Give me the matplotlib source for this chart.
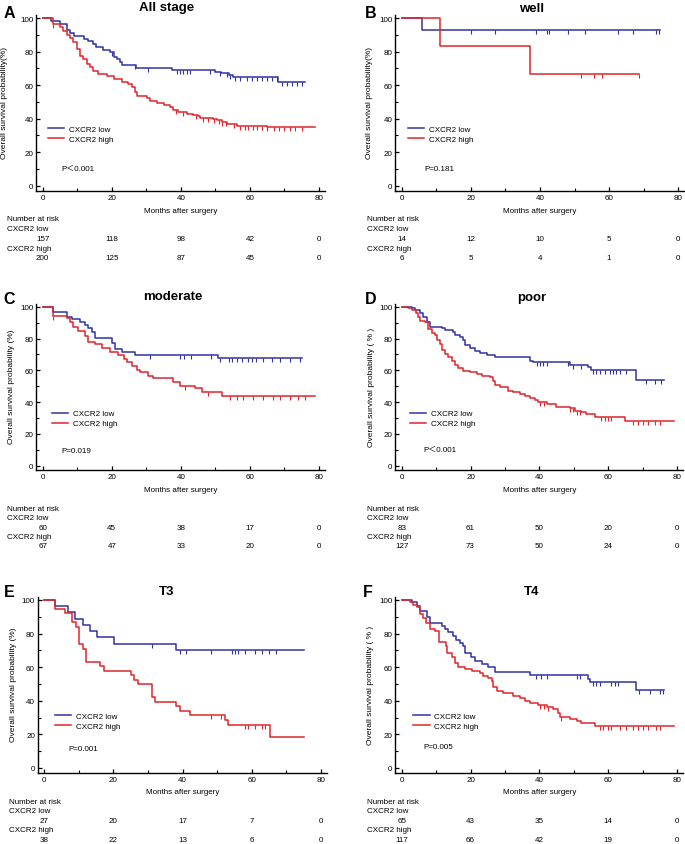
import numpy as np
import matplotlib
matplotlib.use('Agg')
import matplotlib.pyplot as plt
from matplotlib.transforms import blended_transform_factory

# ---------------- data ----------------
risk_times = [0, 20, 40, 60, 80]

# A: all stage
a_low_t = [0, 2.5, 5, 7, 8, 9, 12, 13, 14.5, 15.5, 17.5, 19.5, 20.5, 21.5, 22.5, 23, 27, 37.5, 50, 51.5, 54, 55, 68, 76]
a_low_s = [100, 98, 96.5, 93, 91, 89, 87.5, 86, 84.5, 82.5, 81, 79.5, 77, 75.5, 73.5, 72, 70.3, 69, 68, 67, 66, 65, 62, 62]
a_low_cens = [20, 26.7, 30.6, 38.8, 39.8, 40.7, 41.7, 42.7, 48.5, 51.4, 53.3, 54.2, 55.7, 57.1, 59.1, 60.5, 62, 63.4,
              64.9, 66.3, 67.8, 69.2, 70.7, 72.1, 73.6, 75]
a_high_t = [0, 3, 5, 6, 6.9, 7.9, 8.9, 10, 10.8, 11.8, 12.7, 13.7, 14.7, 16.1, 18.5, 20.5, 22.9, 24.8, 25.8, 26.7,
            27.2, 30.1, 31.1, 33, 35, 36.9, 37.8, 39.3, 41.7, 43.6, 45.1, 45.6, 49.4, 50.4, 51.8, 53.3, 56.2, 64.9, 78.9]
a_high_s = [100, 96.4, 94.4, 92.4, 89.9, 87.9, 85.9, 81.5, 77.5, 75.5, 72.6, 70.6, 68.6, 66.6, 65.2, 63.6, 62, 60.6, 59, 55.7,
            53.7, 52, 50.7, 49.3, 48, 46.7, 45.3, 44, 43, 42.3, 41.4, 40.6, 39.8, 39, 38, 37, 35.8, 35.2, 35.2]
a_high_cens = [3, 38.5, 40.5, 44.5, 46.5, 48, 49.5, 51, 52, 53, 55.5, 57, 58.5, 59.5, 61, 62, 63.5, 65, 67, 68.5, 70,
               71.5, 73, 75]
a_risk_low = [157, 118, 98, 42, 0]
a_risk_high = [200, 125, 87, 45, 0]

# B: well
b_low_t = [0, 6, 74.7]
b_low_s = [100, 92.9, 92.9]
b_low_cens = [20, 27, 38.8, 41.9, 42.7, 48, 53, 62.7, 66.8, 73.5, 74.5]
b_high_t = [0, 11, 37, 68.7]
b_high_s = [100, 83.3, 66.7, 66.7]
b_high_cens = [51.8, 55.6, 57.8, 68.7]
b_risk_low = [14, 12, 10, 5, 0]
b_risk_high = [6, 5, 4, 1, 0]

# C: moderate
c_low_t = [0, 3, 7, 8.4, 10.8, 12.3, 13.2, 14.2, 15.2, 20, 20.9, 22.9, 26.7, 50.9, 75]
c_low_s = [100, 96.6, 93.7, 92.2, 90.6, 88.5, 86.4, 83.9, 80.1, 77.1, 73.4, 71.7, 69.6, 67.5, 67.5]
c_low_cens = [31.1, 39.8, 40.9, 43, 48.7, 51.4, 53.8, 54.9, 56.2, 57.6, 59.5, 60.7, 61.8, 63.9, 66.3, 68.7, 71.6, 74.5]
c_high_t = [0, 3, 7, 7.9, 8.9, 10.3, 12.3, 13.2, 15.2, 17.1, 19.5, 21.9, 23.4, 24.3, 25.8, 27.2, 28.2, 30.6, 32,
            37.8, 39.8, 44.1, 46, 51.8, 78.9]
c_high_s = [100, 94.3, 92.7, 90.6, 87.4, 84.9, 81.8, 78, 76.3, 73.8, 71.7, 69.6, 67.1, 65, 62.5, 60.4, 58.7, 56.6, 54.9,
            52.8, 50.3, 48.6, 46.5, 43.6, 43.6]
c_high_cens = [3.1, 41.2, 48, 54.2, 56.2, 58.1, 61, 63.9, 66.8, 68.7, 71.6, 74, 76]
c_risk_low = [60, 45, 38, 17, 0]
c_risk_high = [67, 47, 33, 20, 0]

# D: poor
d_low_t = [0, 2.9, 3.9, 5.3, 6.3, 7.3, 8.2, 11.6, 12.6, 15, 15.5, 16.9, 17.9, 18.4, 19.8, 21.3, 22.7, 24.7, 27.1,
           37.2, 38.2, 48.8, 54.2, 55.1, 68.2, 76.1]
d_low_s = [100, 99, 97.9, 95.8, 93.7, 90.6, 87, 86.4, 85.3, 84.3, 82.2, 80.7, 79, 75.9, 73.8, 72.3, 70.9, 69.6, 68.1,
           66, 65, 63.3, 61.8, 60.4, 54.1, 54.1]
d_low_cens = [39.2, 40.1, 41.1, 42.1, 48.2, 49.8, 52.2, 55.6, 56.6, 57.5, 59, 60.4, 61.4, 62.4, 63.3, 65.3, 71.1,
              73.5, 75.4]
d_high_t = [0, 1.9, 2.9, 4.2, 4.8, 5.3, 6.8, 7.7, 8.7, 9.7, 10.2, 11.1, 11.6, 12.6, 13.5, 14.5, 15.5, 16.4, 17.9,
            19.8, 21.8, 23.2, 25.6, 26.6, 27.1, 28.5, 30.9, 32.4, 34.3, 35.8, 37.2, 38.7, 39.7, 42.1, 44.9, 48.8,
            50.3, 52.2, 53.7, 56.1, 64.8, 79]
d_high_s = [100, 99, 97.9, 95.8, 93.7, 91.2, 90.1, 86, 83.4, 82.2, 79, 76.5, 73, 70.2, 68.1, 66, 63.3, 61.2, 59.7,
            58.7, 57.7, 56.6, 55.6, 53.5, 50.7, 49.3, 47.2, 46.1, 45.1, 43.6, 42.3, 41.3, 40.3, 38.8, 37.1, 36.1,
            34.6, 33.5, 32.5, 30.4, 28.3, 28.3]
d_high_cens = [40.1, 41.3, 48.8, 49.8, 50.8, 51.7, 58, 59, 60, 60.9, 67.2, 68.7, 70.1, 71.6, 73.5, 75]
d_risk_low = [83, 61, 50, 20, 0]
d_risk_high = [127, 73, 50, 24, 0]

# E: T3
e_low_t = [0, 3.1, 6.9, 8.9, 11.3, 13.2, 15.2, 20.3, 38.1, 75.2]
e_low_s = [100, 96.3, 92.6, 88.9, 85.2, 81.5, 77.8, 74.1, 70, 70]
e_low_cens = [31.1, 39.3, 40.9, 48.3, 54.2, 55.2, 56.2, 58.1, 61, 62.9, 64.9, 67.1]
e_high_t = [0, 3.1, 6, 7.9, 9.2, 10, 11.3, 12.1, 16.1, 17.4, 25.1, 26, 27, 31.1, 31.9, 38.1, 39.3, 42.2, 52.3,
            53.1, 65.2, 75.2]
e_high_s = [100, 94.7, 92.1, 86.8, 84.2, 73.7, 71.1, 63.2, 60.5, 57.9, 55.3, 52.6, 50, 42.1, 39.5, 36.8, 34.2, 31.6,
            28.4, 25.3, 18.4, 18.4]
e_high_cens = [48.2, 51.2, 58.1, 59.1, 61, 62.9, 63.9]
e_risk_low = [27, 20, 17, 7, 0]
e_risk_high = [38, 22, 13, 6, 0]

# F: T4
f_low_t = [0, 2.9, 4.4, 5.3, 7.3, 8.2, 11.6, 12.6, 13.5, 15, 15.8, 16.9, 17.9, 18.4, 20.1, 21.3, 23.2, 25.1, 27.1,
           37.2, 54.2, 54.7, 68.2, 76.1]
f_low_s = [100, 99, 96.6, 93.7, 89.7, 86.1, 84.7, 82.7, 80.8, 78.8, 76.2, 74.2, 72.8, 68.3, 65.9, 63.5, 61.9, 60.3,
           56.9, 55.6, 53, 51, 46.4, 46.4]
f_low_cens = [39, 40.6, 42.1, 51, 51.9, 55.6, 56.4, 57.5, 60.9, 61.9, 62.9, 69.1, 72.1, 75, 75.9]
f_high_t = [0, 2.4, 3.4, 4.4, 5.3, 6.3, 7.1, 8.2, 9.7, 10.9, 12.9, 13.2, 14.5, 15.5, 16.4, 18.4, 20.3, 22.7, 23.7,
            25.1, 26.1, 26.6, 27.6, 29.5, 32.4, 34.3, 35.8, 37.2, 39.7, 42.1, 44, 45.5, 45.9, 48.8, 50.8, 52.2,
            56.1, 79]
f_high_s = [100, 99, 97.2, 95.6, 91.7, 89.3, 86.1, 82.7, 81.3, 74.8, 72.8, 68.3, 65.9, 62.3, 59.9, 58.9, 57.5, 56.3,
            54.9, 53.6, 52, 48.4, 45.6, 44.4, 43.1, 41.7, 40.1, 38.7, 37.7, 36.5, 35.1, 32.5, 30.6, 29.2, 27.8, 26.6,
            25.2, 25.2]
f_high_cens = [40.1, 41.3, 42.6, 46.4, 57.5, 58.5, 60, 60.9, 63.3, 65.3, 67.2, 68.7, 70.1, 71.6, 74, 75]
f_risk_low = [65, 43, 35, 14, 0]
f_risk_high = [117, 66, 42, 19, 0]

# ---------------- style ----------------
W, H = 685, 845
plt.rcParams['font.family'] = ['Liberation Sans Narrow', 'Liberation Sans', 'DejaVu Sans', 'Noto Sans CJK SC']
bold_family = ['Liberation Sans', 'DejaVu Sans']
blue = '#2f31a5'
red = '#e2252b'
fs = 5.8

fig = plt.figure(figsize=(W / 100, H / 100), dpi=100)


def fxy(x, y):
    # pixel position (from top-left) -> figure fraction
    return x / W, 1 - y / H


# layout in pixels: x of month 0, x of month 80, y of 100 %, y of 0 %
panels = [
    dict(letter='A', title='All stage', ylab='Overall survival probability(%)', p='P＜0.001',
         low=(a_low_t, a_low_s, a_low_cens), high=(a_high_t, a_high_s, a_high_cens),
         risk=(a_risk_low, a_risk_high),
         box=(42.7, 319, 19, 186.7), letter_xy=(9, 14), title_xy=(167, 8), ylab_x=8,
         leg=(1.6, 30.8), p_xy=(5.5, 10.3), xlab_y=211.5, rx=7, ry=(219.5, 229.3, 239.3, 249.3, 258.8)),
    dict(letter='B', title='well', ylab='Overall survival probability(%)', p='P=0.181',
         low=(b_low_t, b_low_s, b_low_cens), high=(b_high_t, b_high_s, b_high_cens),
         risk=(b_risk_low, b_risk_high),
         box=(401.7, 678.3, 19, 186.7), letter_xy=(371, 14), title_xy=(532, 9), ylab_x=373,
         leg=(1.9, 30.9), p_xy=(6.7, 10), xlab_y=211.5, rx=367, ry=(219.5, 229.3, 239.3, 249.3, 258.8)),
    dict(letter='C', title='moderate', ylab='Overall survival probability (%)', p='P=0.019',
         low=(c_low_t, c_low_s, c_low_cens), high=(c_high_t, c_high_s, c_high_cens),
         risk=(c_risk_low, c_risk_high),
         box=(42.7, 319, 307.7, 466.7), letter_xy=(9, 299), title_xy=(173, 297), ylab_x=15,
         leg=(2.6, 29.6), p_xy=(5.5, 9.4), xlab_y=491, rx=7, ry=(510, 518.5, 528.3, 537.7, 546.7)),
    dict(letter='D', title='poor', ylab='Overall survival probability ( % )', p='P＜0.001',
         low=(d_low_t, d_low_s, d_low_cens), high=(d_high_t, d_high_s, d_high_cens),
         risk=(d_risk_low, d_risk_high),
         box=(401.7, 677, 307.7, 466.7), letter_xy=(371, 300), title_xy=(532, 298), ylab_x=375,
         leg=(2.4, 29.6), p_xy=(6.3, 10.5), xlab_y=491, rx=367, ry=(510, 518.5, 528.3, 537.7, 546.7)),
    dict(letter='E', title='T3', ylab='Overall survival probability (%)', p='P=0.001',
         low=(e_low_t, e_low_s, e_low_cens), high=(e_high_t, e_high_s, e_high_cens),
         risk=(e_risk_low, e_risk_high),
         box=(44.3, 320.7, 601, 769), letter_xy=(9, 592.5), title_xy=(167, 592), ylab_x=17,
         leg=(3.1, 27.9), p_xy=(7, 11.7), xlab_y=793, rx=9, ry=(802.3, 811.7, 821.7, 831, 841)),
    dict(letter='F', title='T4', ylab='Overall survival probability ( % )', p='P=0.005',
         low=(f_low_t, f_low_s, f_low_cens), high=(f_high_t, f_high_s, f_high_cens),
         risk=(f_risk_low, f_risk_high),
         box=(401.7, 677, 601, 769), letter_xy=(368, 592.5), title_xy=(532, 592), ylab_x=374,
         leg=(3.4, 27.9), p_xy=(6.3, 12.7), xlab_y=793, rx=367, ry=(802.3, 811.7, 821.7, 831, 841)),
]

xmin, xmax = -1.9, 81.8
ymin, ymax = -3.0, 101.5

for pn in panels:
    x0, x80, y100, y0 = pn['box']
    ppm = (x80 - x0) / 80.0
    ppp = (y0 - y100) / 100.0
    left = x0 + xmin * ppm
    right = x0 + xmax * ppm
    top = y0 - ymax * ppp
    bottom = y0 - ymin * ppp
    ax = fig.add_axes([left / W, 1 - bottom / H, (right - left) / W, (bottom - top) / H])
    ax.set_xlim(xmin, xmax)
    ax.set_ylim(ymin, ymax)

    # survival curves
    for (t, s, cens), col, lab in [(pn['low'], blue, 'CXCR2 low'), (pn['high'], red, 'CXCR2 high')]:
        t = np.array(t, dtype=float)
        s = np.array(s, dtype=float)
        ax.step(t, s, where='post', color=col, lw=1.1, label=lab, zorder=3)
        c = np.array(cens, dtype=float)
        cy = s[np.searchsorted(t, c, side='right') - 1]
        ax.plot(c, cy, linestyle='none', marker=3, markersize=3.2, markeredgewidth=0.8,
                color=col, zorder=3)

    # axes style
    for side in ['top', 'right']:
        ax.spines[side].set_visible(False)
    for side in ['left', 'bottom']:
        ax.spines[side].set_linewidth(1.0)
    ax.set_xticks([0, 20, 40, 60, 80])
    ax.set_xticks([10, 30, 50, 70], minor=True)
    ax.set_yticks([0, 20, 40, 60, 80, 100])
    ax.set_yticks([10, 30, 50, 70, 90], minor=True)
    ax.tick_params(which='major', direction='in', length=3.2, width=0.9, labelsize=fs, pad=2)
    ax.tick_params(which='minor', direction='in', length=2.0, width=0.8)
    ax.patch.set_visible(False)

    # y label
    ax.set_ylabel(pn['ylab'], fontsize=6)
    ax.yaxis.set_label_coords(pn['ylab_x'] / W, 1 - (y100 + y0) / 2 / H, transform=fig.transFigure)

    # legend
    ax.legend(loc='center left', bbox_to_anchor=pn['leg'], bbox_transform=ax.transData,
              frameon=False, fontsize=fs, borderpad=0, borderaxespad=0, handlelength=2.0,
              handletextpad=0.6, labelspacing=0.3)

    # p value
    ax.text(pn['p_xy'][0], pn['p_xy'][1], pn['p'], fontsize=fs, ha='left', va='center')

    # title and panel letter
    fig.text(*fxy(*pn['title_xy']), pn['title'], fontsize=9.5, fontweight='bold',
             family=bold_family, ha='center', va='center')
    fig.text(*fxy(*pn['letter_xy']), pn['letter'], fontsize=11.5, fontweight='bold',
             family=bold_family, ha='center', va='center')

    # x label and number-at-risk table
    tr = blended_transform_factory(ax.transData, fig.transFigure)
    ax.text(40, 1 - pn['xlab_y'] / H, 'Months after surgery', transform=tr, fontsize=fs,
            ha='center', va='center')
    ry = pn['ry']
    fig.text(*fxy(pn['rx'], ry[0]), 'Number at risk', fontsize=fs, va='center')
    fig.text(*fxy(pn['rx'], ry[1]), 'CXCR2 low', fontsize=fs, va='center')
    fig.text(*fxy(pn['rx'], ry[3]), 'CXCR2 high', fontsize=fs, va='center')
    for xt, nl, nh in zip(risk_times, pn['risk'][0], pn['risk'][1]):
        ax.text(xt, 1 - ry[2] / H, str(nl), transform=tr, fontsize=fs, ha='center', va='center')
        ax.text(xt, 1 - ry[4] / H, str(nh), transform=tr, fontsize=fs, ha='center', va='center')

fig.savefig('out.png', dpi=100, facecolor='white')
